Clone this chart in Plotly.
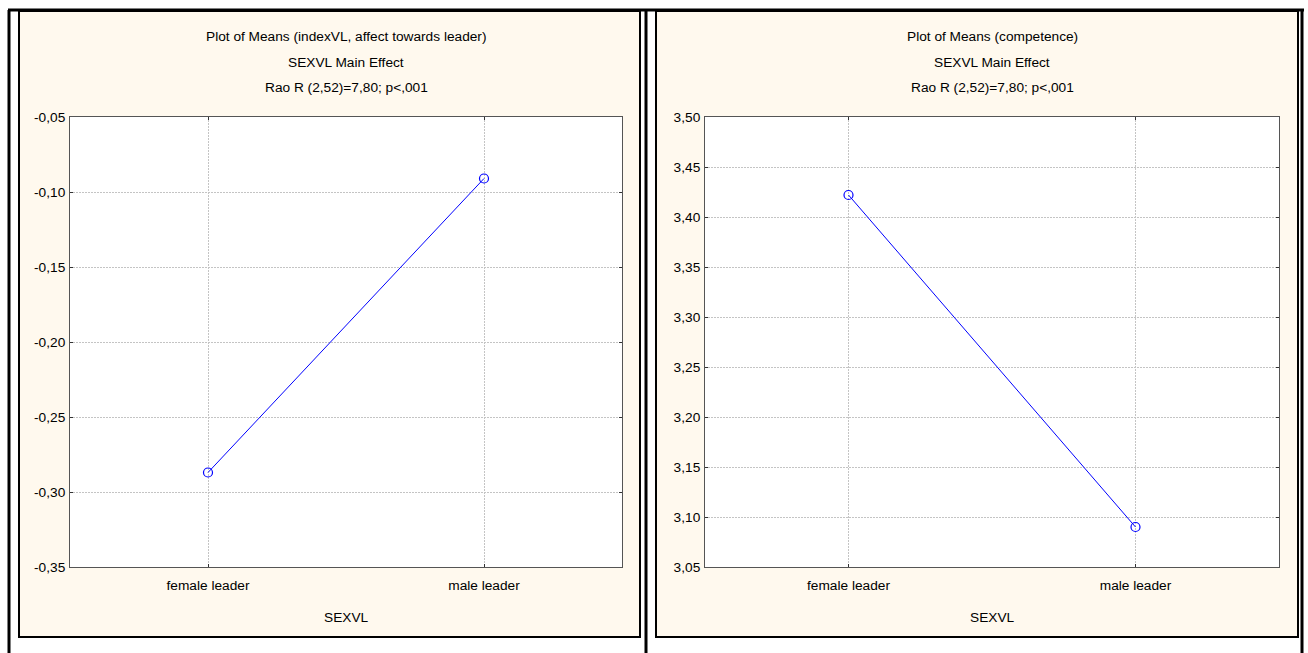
import plotly.graph_objects as go

W, H = 1308, 653

categories = ["female leader", "male leader"]
affect_means = [-0.287, -0.091]
competence_means = [3.422, 3.090]

affect_ticks = [-0.35, -0.30, -0.25, -0.20, -0.15, -0.10, -0.05]
competence_ticks = [3.05, 3.10, 3.15, 3.20, 3.25, 3.30, 3.35, 3.40, 3.45, 3.50]
affect_tick_labels = ["-0,35", "-0,30", "-0,25", "-0,20", "-0,15", "-0,10", "-0,05"]
competence_tick_labels = ["3,05", "3,10", "3,15", "3,20", "3,25", "3,30", "3,35", "3,40", "3,45", "3,50"]

titles = [
    ["Plot of Means (indexVL, affect towards leader)", "SEXVL Main Effect", "Rao R (2,52)=7,80; p<,001"],
    ["Plot of Means (competence)", "SEXVL Main Effect", "Rao R (2,52)=7,80; p<,001"],
]
x_title = "SEXVL"

FONT = "Liberation Sans Narrow, Arial Narrow, Liberation Sans, Arial, sans-serif"
CREAM = "#FFF9EE"

def px(x):
    return x / W

def py(y):
    return 1 - y / H

# plot area pixel boxes
areas = [(70, 622, 117, 567), (705, 1279, 117, 567)]
panels = [(19, 640, 11, 637), (656, 1298, 11, 637)]

fig = go.Figure()

for i, (vals, xa, ya) in enumerate([(affect_means, "x", "y"), (competence_means, "x2", "y2")]):
    fig.add_trace(go.Scatter(x=categories, y=vals, mode="lines+markers",
                             line=dict(color="#0000FF", width=1),
                             marker=dict(symbol="circle-open", size=9, color="#0000FF", line=dict(width=1.2)),
                             xaxis=xa, yaxis=ya, showlegend=False, hoverinfo="skip"))

shapes = []
for (x0, x1, y0, y1) in panels:
    shapes.append(dict(type="rect", xref="paper", yref="paper", x0=px(x0), x1=px(x1), y0=py(y1), y1=py(y0),
                       fillcolor=CREAM, line=dict(color="black", width=2), layer="below"))
for (x0, x1, y0, y1) in areas:
    shapes.append(dict(type="rect", xref="paper", yref="paper", x0=px(x0), x1=px(x1), y0=py(y1), y1=py(y0),
                       fillcolor="white", line=dict(width=0), layer="below"))
# outer frame lines
outer = [(8, 10, 1304, 10), (9, 10, 9, 653), (646, 10, 646, 653), (1302, 10, 1302, 653)]
for (x0, y0, x1, y1) in outer:
    shapes.append(dict(type="line", xref="paper", yref="paper", x0=px(x0), x1=px(x1), y0=py(y0), y1=py(y1),
                       line=dict(color="black", width=3), layer="above"))

annotations = []
for i, (x0, x1, y0, y1) in enumerate(areas):
    cx = px((x0 + x1) / 2)
    for j, t in enumerate(titles[i]):
        annotations.append(dict(text=t, xref="paper", yref="paper", x=cx, y=py(37 + 25 * j),
                                xanchor="center", yanchor="middle", showarrow=False,
                                font=dict(family=FONT, size=13.7, color="black")))
    annotations.append(dict(text=x_title, xref="paper", yref="paper", x=cx, y=py(617),
                            xanchor="center", yanchor="middle", showarrow=False,
                            font=dict(family=FONT, size=13.7, color="black")))

axis_common = dict(showline=True, linecolor="#555555", linewidth=1, mirror="ticks",
                   showgrid=True, gridcolor="#C4C4C4", griddash="2px,1px", gridwidth=1,
                   ticks="inside", ticklen=3, tickcolor="#333333", zeroline=False,
                   tickfont=dict(family=FONT, size=13.7, color="black"))

fig.update_layout(
    width=W, height=H, margin=dict(l=0, r=0, t=0, b=0, autoexpand=False),
    paper_bgcolor="white", plot_bgcolor="white",
    shapes=shapes, annotations=annotations,
    xaxis=dict(domain=[px(70), px(622)], anchor="y", type="category", range=[-0.5, 1.5],
               ticklabelstandoff=6, **axis_common),
    yaxis=dict(domain=[py(567), py(117)], anchor="x", range=[-0.35, -0.05], tickvals=affect_ticks,
               ticktext=affect_tick_labels, ticklabelstandoff=1, **axis_common),
    xaxis2=dict(domain=[px(705), px(1279)], anchor="y2", type="category", range=[-0.5, 1.5],
                ticklabelstandoff=6, **axis_common),
    yaxis2=dict(domain=[py(567), py(117)], anchor="x2", range=[3.05, 3.50], tickvals=competence_ticks,
                ticktext=competence_tick_labels, ticklabelstandoff=1, **axis_common),
)

post = "document.body.style.margin='0';document.body.style.padding='0';document.body.style.overflow='hidden';document.documentElement.style.overflow='hidden';"
fig.write_html("out.html", config={"displayModeBar": False, "responsive": False}, post_script=post)
